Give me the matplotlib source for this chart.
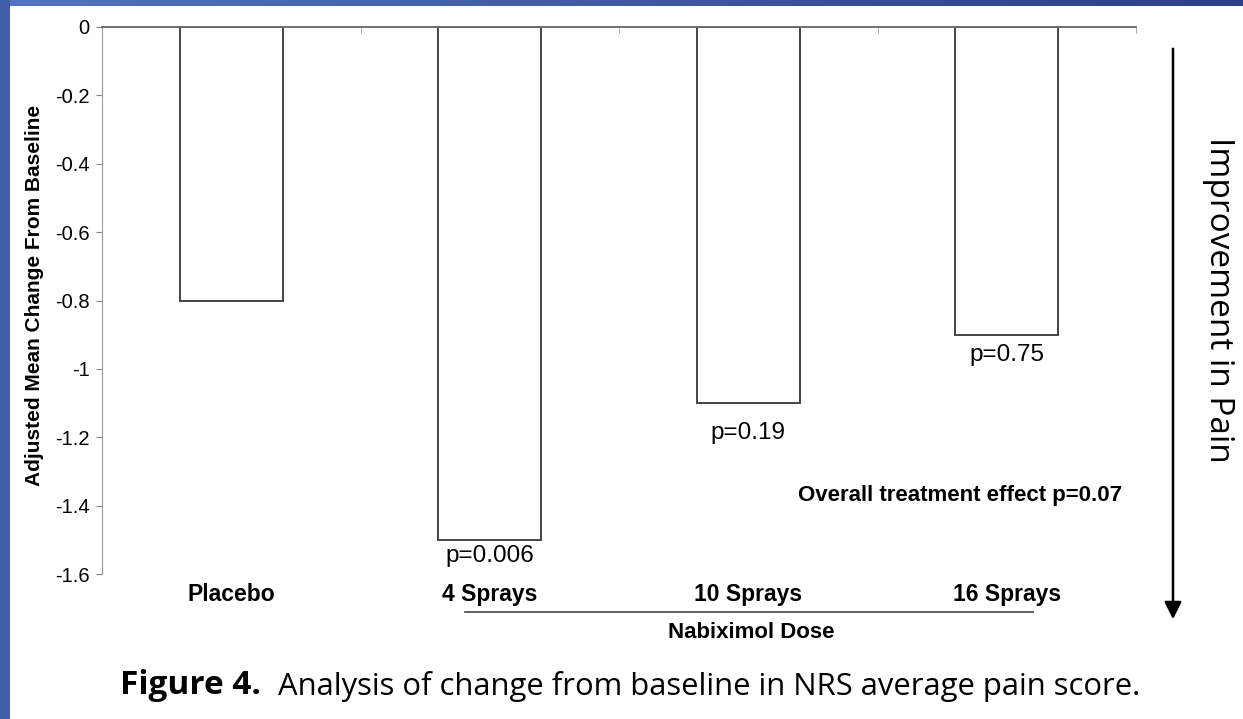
import numpy as np
import matplotlib.pyplot as plt
from matplotlib.patches import Rectangle

# data
groups = ["Placebo", "4 Sprays", "10 Sprays", "16 Sprays"]
mean_change = [-0.8, -1.5, -1.1, -0.9]
p_labels = [None, "p=0.006", "p=0.19", "p=0.75"]
yticks = [0, -0.2, -0.4, -0.6, -0.8, -1, -1.2, -1.4, -1.6]
ytick_labels = ["0", "-0.2", "-0.4", "-0.6", "-0.8", "-1", "-1.2", "-1.4", "-1.6"]

plt.rcParams['font.family'] = ['Liberation Sans', 'DejaVu Sans']

fig = plt.figure(figsize=(12.43, 7.19), dpi=100)

# blue slide border (left and top)
grad = np.linspace(0, 1, 256).reshape(1, -1)
c0 = np.array([0.33, 0.45, 0.76])
c1 = np.array([0.17, 0.25, 0.52])
top_img = c0[None, None, :] * (1 - grad[..., None]) + c1[None, None, :] * grad[..., None]
bax = fig.add_axes([0, 1 - 6 / 719, 1, 6 / 719])
bax.imshow(top_img, aspect="auto")
bax.axis("off")
fig.patches.append(Rectangle((0, 0), 10 / 1243, 1, transform=fig.transFigure,
                             facecolor=(0.26, 0.37, 0.66), edgecolor="none", zorder=5))

ax = fig.add_axes([102 / 1243, 1 - 574 / 719, 1034 / 1243, 547 / 719])
x = np.arange(len(groups))
ax.bar(x, mean_change, width=0.4, color="white", edgecolor="#444444", linewidth=1.4)

ax.set_xlim(-0.5, 3.5)
ax.set_ylim(-1.6, 0)
ax.set_yticks(yticks)
ax.set_yticklabels(ytick_labels, fontsize=14.5)
ax.tick_params(axis="y", direction="out", length=4, color="#888888", pad=5)

for s in ["right", "bottom"]:
    ax.spines[s].set_visible(False)
ax.spines["left"].set_color("#999999")
ax.spines["top"].set_color("#666666")
ax.spines["top"].set_linewidth(1.3)

ax.set_xticks(x)
ax.set_xticklabels(groups, fontsize=16.5, fontweight="bold")
ax.tick_params(axis="x", bottom=False, pad=3)
ax.set_xticks(np.arange(-0.5, 4, 1), minor=True)
ax.tick_params(axis="x", which="minor", bottom=False, top=True, direction="in",
               length=4, color="#999999")

ax.set_ylabel("Adjusted Mean Change From Baseline", fontsize=15, fontweight="bold", va="center")
ax.yaxis.set_label_coords(-0.065, 0.51)

label_offsets = [0, 0.047, 0.088, 0.059]
for i, lab in enumerate(p_labels):
    if lab:
        ax.text(x[i], mean_change[i] - label_offsets[i], lab, ha="center", va="center",
                fontsize=17.5)

ax.text(3.446, -1.369, "Overall treatment effect p=0.07", ha="right", va="center",
        fontsize=16, fontweight="bold")

# dose bracket
fig.add_artist(plt.Line2D([465 / 1243, 1033 / 1243], [1 - 612 / 719, 1 - 612 / 719],
                          color="#555555", linewidth=1.3))
fig.text(751 / 1243, 1 - 633 / 719, "Nabiximol Dose", ha="center", va="center",
         fontsize=16, fontweight="bold")

# improvement arrow
ax.annotate("", xy=(1173 / 1243, 1 - 622 / 719), xytext=(1173 / 1243, 1 - 46 / 719),
            xycoords="figure fraction", textcoords="figure fraction",
            arrowprops=dict(arrowstyle="-|>", color="black", lw=1.8, mutation_scale=26))
fig.text(1219 / 1243, 1 - 300 / 719, "Improvement in Pain", rotation=-90, ha="center",
         va="center", fontsize=24, family="Open Sans")

fig.text(120 / 1243, 1 - 686 / 719, "Figure 4.", fontsize=24, fontweight="bold",
         family="Open Sans", ha="left", va="center")
fig.text(278 / 1243, 1 - 686 / 719, "Analysis of change from baseline in NRS average pain score.",
         fontsize=22.3, family="Open Sans", ha="left", va="center")

fig.savefig("out.png", dpi=100)
